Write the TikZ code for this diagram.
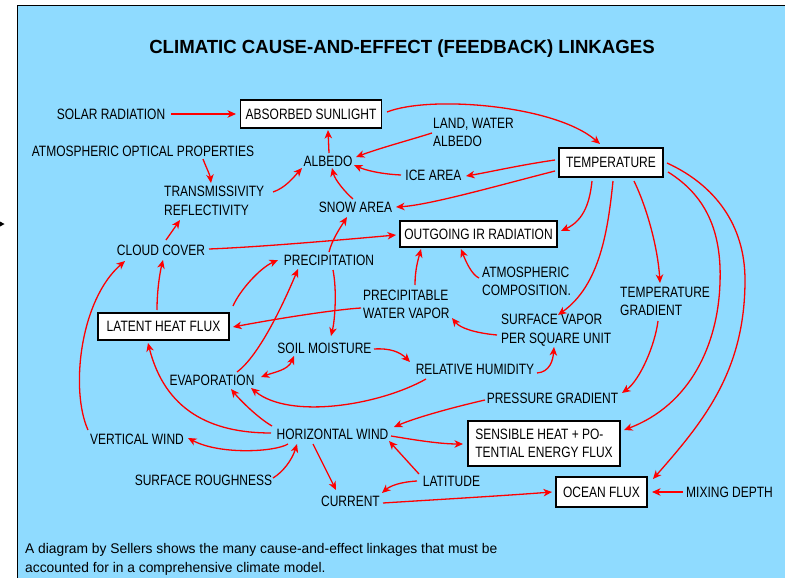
\documentclass[tikz,border=0pt]{standalone}
\usepackage{fontspec}
\setmainfont{Liberation Sans}[FakeStretch=0.987]
\newfontfamily\labfont{Liberation Sans}[FakeStretch=0.8]
\newfontfamily\titlefont{Liberation Sans}[FakeStretch=0.98]
\usetikzlibrary{arrows.meta}
\definecolor{skyb}{RGB}{143,219,255}
\definecolor{lnk}{RGB}{255,0,0}
\begin{document}
\begin{tikzpicture}[x=1pt,y=-1pt,
  lbl/.style={inner sep=0pt, font=\labfont\fontsize{15}{18.5}\selectfont, align=left},
  bx/.style={draw=black, line width=1.3pt, fill=white, inner sep=0pt, font=\labfont\fontsize{15}{18.5}\selectfont, align=left},
  link/.style={draw=lnk, line width=1.3pt, -{Stealth[length=8.5pt,width=7.5pt,inset=2.5pt]}},
  link2/.style={draw=lnk, line width=1.3pt, {Stealth[length=8.5pt,width=7.5pt,inset=2.5pt]}-{Stealth[length=8.5pt,width=7.5pt,inset=2.5pt]}}
]
\useasboundingbox (0,0) rectangle (785,578);
\fill[skyb] (17,5) rectangle (785,578);
\draw[black, line width=1.5pt] (17.5,578) -- (17.5,5.5) -- (785,5.5);
\fill[black] (0,221.5) -- (4.5,224) -- (0,226.5) -- cycle;

% title and caption
\node[inner sep=0pt, anchor=base, font=\titlefont\bfseries\fontsize{19}{22}\selectfont] (title) at (402,54) {CLIMATIC CAUSE-AND-EFFECT (FEEDBACK) LINKAGES};
\node[inner sep=0pt, anchor=north west, align=left, font=\fontsize{14}{19}\selectfont] (caption) at (25,543) {A diagram by Sellers shows the many cause-and-effect linkages that must be\\accounted for in a comprehensive climate model.};

% boxes
\node[bx, minimum width=141pt, minimum height=28pt] (absorbed) at (311,114) {ABSORBED SUNLIGHT};
\node[bx, minimum width=104pt, minimum height=29pt] (temp) at (611,162.5) {TEMPERATURE};
\node[bx, minimum width=157pt, minimum height=26pt] (outgoing) at (478.5,234) {OUTGOING IR RADIATION};
\node[bx, minimum width=131pt, minimum height=27pt] (latent) at (163.5,326.5) {LATENT HEAT FLUX};
\node[bx, minimum width=152pt, minimum height=45pt] (sensible) at (544,443.5) {SENSIBLE HEAT + PO-\\TENTIAL ENERGY FLUX};
\node[bx, minimum width=91pt, minimum height=30pt] (ocean) at (601.5,492) {OCEAN FLUX};

% labels
\node[lbl] (solar) at (111,114) {SOLAR RADIATION};
\node[lbl] (optical) at (143,151) {ATMOSPHERIC OPTICAL PROPERTIES};
\node[lbl, anchor=west] (trans) at (164,201) {TRANSMISSIVITY\\REFLECTIVITY};
\node[lbl] (albedo) at (328,161) {ALBEDO};
\node[lbl, anchor=west] (land) at (433,132.5) {LAND, WATER\\ALBEDO};
\node[lbl] (ice) at (433.5,175) {ICE AREA};
\node[lbl] (snow) at (355.5,207) {SNOW AREA};
\node[lbl] (cloud) at (161,250) {CLOUD COVER};
\node[lbl] (precip) at (329,260) {PRECIPITATION};
\node[lbl, anchor=west] (pwv) at (363,304.5) {PRECIPITABLE\\WATER VAPOR};
\node[lbl, anchor=west] (atmcomp) at (482,281.5) {ATMOSPHERIC\\COMPOSITION.};
\node[lbl, anchor=west] (tgrad) at (620,301.5) {TEMPERATURE\\GRADIENT};
\node[lbl, anchor=west] (surfvap) at (501,330) {SURFACE VAPOR\\PER SQUARE UNIT};
\node[lbl] (soil) at (324.5,348) {SOIL MOISTURE};
\node[lbl] (relhum) at (475,369) {RELATIVE HUMIDITY};
\node[lbl] (evap) at (212,380) {EVAPORATION};
\node[lbl] (pgrad) at (552.5,398) {PRESSURE GRADIENT};
\node[lbl] (hwind) at (332.5,434) {HORIZONTAL WIND};
\node[lbl] (vwind) at (137,439) {VERTICAL WIND};
\node[lbl] (rough) at (203.5,480) {SURFACE ROUGHNESS};
\node[lbl] (current) at (350.5,501.5) {CURRENT};
\node[lbl] (latitude) at (451.5,481) {LATITUDE};
\node[lbl] (mixing) at (729.5,492) {MIXING DEPTH};

% connectors
\draw[link] ([shift={(60,0)}]solar.center) -- ([shift={(-75,0)}]absorbed.center);
\draw[link] ([shift={(76,-2)}]absorbed.center) .. controls (430,95) and (555,105) .. ([shift={(-11,-18.5)}]temp.center);
\draw[link] ([shift={(1,-8)}]albedo.center) -- ([shift={(17,16)}]absorbed.center);
\draw[link] ([shift={(-1,0.5)}]land.west) .. controls (410,140) and (380,148) .. ([shift={(28,-4)}]albedo.center);
\draw[link] ([shift={(-32.5,0)}]ice.center) .. controls (380,174) and (365,170) .. ([shift={(26,4)}]albedo.center);
\draw[link] ([shift={(-56,-2.5)}]temp.center) .. controls (520,165) and (490,172) .. ([shift={(32.5,1)}]ice.center);
\draw[link] ([shift={(-56,8.5)}]temp.center) .. controls (500,185) and (430,205) .. ([shift={(40.5,0)}]snow.center);
\draw[link] ([shift={(-2.5,-8)}]snow.center) .. controls (345,192) and (335,180) .. ([shift={(4,7)}]albedo.center);
\draw[link] ([shift={(60,8)}]optical.center) .. controls (206,167) and (210,175) .. ([shift={(47,-18)}]trans.west);
\draw[link] ([shift={(109,-9)}]trans.west) .. controls (285,188) and (293,178) .. ([shift={(-26,7)}]albedo.center);
\draw[link] ([shift={(5,-10)}]cloud.center) -- ([shift={(16,19)}]trans.west);
\draw[link] ([shift={(48,-1)}]cloud.center) .. controls (260,247) and (340,240) .. ([shift={(-82.5,1)}]outgoing.center);
\draw[link] ([shift={(0,-8)}]precip.center) .. controls (332,240) and (340,228) .. ([shift={(-8.5,10)}]snow.center);
\draw[link] ([shift={(-6.5,-16.5)}]latent.center) .. controls (157,290) and (160,272) .. ([shift={(2,10)}]cloud.center);
\draw[link] ([shift={(-49,-9)}]vwind.center) .. controls (70,390) and (80,300) .. ([shift={(-36,11)}]cloud.center);
\draw[link] ([shift={(69.5,-20.5)}]latent.center) .. controls (240,290) and (260,268) .. ([shift={(-51,0)}]precip.center);
\draw[link] ([shift={(25,-8)}]evap.center) .. controls (260,355) and (285,300) .. ([shift={(-31,9)}]precip.center);
\draw[link] ([shift={(4,10)}]precip.center) .. controls (337,290) and (335,320) .. ([shift={(6.5,-12)}]soil.center);
\draw[link] ([shift={(-2,3.5)}]pwv.west) .. controls (330,310) and (270,320) .. ([shift={(69.5,0.5)}]latent.center);
\draw[link] ([shift={(52,-19.5)}]pwv.west) .. controls (415,270) and (418,260) .. ([shift={(-57.5,15)}]outgoing.center);
\draw[link] ([shift={(-3,-3.5)}]atmcomp.west) .. controls (472,275) and (466,262) .. ([shift={(-17.5,15)}]outgoing.center);
\draw[link] ([shift={(-4,5)}]surfvap.west) .. controls (475,333) and (460,328) .. ([shift={(89,13.5)}]pwv.west);
\draw[link] ([shift={(-19,18.5)}]temp.center) .. controls (590,200) and (585,220) .. ([shift={(82.5,-3)}]outgoing.center);
\draw[link] ([shift={(2,18.5)}]temp.center) .. controls (608,230) and (600,285) .. ([shift={(57,-15)}]surfvap.west);
\draw[link] ([shift={(23,18.5)}]temp.center) .. controls (648,210) and (658,250) .. ([shift={(40,-18.5)}]tgrad.west);
\draw[link] ([shift={(57,9.5)}]temp.center) .. controls (705,195) and (722,230) .. (720,283) .. controls (718,345) and (690,405) .. ([shift={(80,-13.5)}]sensible.center);
\draw[link] ([shift={(56,0.5)}]temp.center) .. controls (715,185) and (745,225) .. (745,280) .. controls (745,370) and (705,420) .. ([shift={(51.5,-13)}]ocean.center);
\draw[link] ([shift={(38,19.5)}]tgrad.west) .. controls (655,345) and (640,380) .. ([shift={(69.5,-5)}]pgrad.center);
\draw[link] ([shift={(-67.5,2)}]pgrad.center) .. controls (450,408) and (415,418) .. ([shift={(61.5,-7)}]hwind.center);
\draw[link] ([shift={(62,4)}]relhum.center) .. controls (550,372) and (553,360) .. ([shift={(53,17)}]surfvap.west);
\draw[link] ([shift={(49.5,1)}]soil.center) .. controls (390,348) and (400,352) .. ([shift={(-65,-7)}]relhum.center);
\draw[link2] ([shift={(-30.5,8)}]soil.center) .. controls (288,370) and (275,372) .. ([shift={(49,-3)}]evap.center);
\draw[link] ([shift={(-49,10)}]relhum.center) .. controls (380,405) and (290,420) .. ([shift={(39,8)}]evap.center);
\draw[link] ([shift={(-60.5,-8)}]hwind.center) .. controls (258,418) and (240,400) .. ([shift={(19,9)}]evap.center);
\draw[link] ([shift={(-61.5,-1)}]hwind.center) .. controls (210,433) and (165,410) .. ([shift={(-15.5,16.5)}]latent.center);
\draw[link] ([shift={(-44.5,10)}]hwind.center) .. controls (275,452) and (220,455) .. ([shift={(51,-1)}]vwind.center);
\draw[link] ([shift={(69.5,-2)}]rough.center) .. controls (283,472) and (292,460) .. ([shift={(-35.5,10)}]hwind.center);
\draw[link] ([shift={(-19.5,10)}]hwind.center) -- ([shift={(-14.5,-11.5)}]current.center);
\draw[link] ([shift={(58.5,2)}]hwind.center) .. controls (415,440) and (440,444) .. ([shift={(-81,0.5)}]sensible.center);
\draw[link] ([shift={(-32.5,-7)}]latitude.center) -- ([shift={(56.5,7)}]hwind.center);
\draw[link] ([shift={(-34.5,0)}]latitude.center) .. controls (400,482) and (390,486) .. ([shift={(31.5,-8.5)}]current.center);
\draw[link] ([shift={(32.5,1.5)}]current.center) .. controls (430,500) and (500,496) .. ([shift={(-49.5,0)}]ocean.center);
\draw[link] ([shift={(-46.5,0)}]mixing.center) -- ([shift={(50.5,0)}]ocean.center);
\end{tikzpicture}
\end{document}
